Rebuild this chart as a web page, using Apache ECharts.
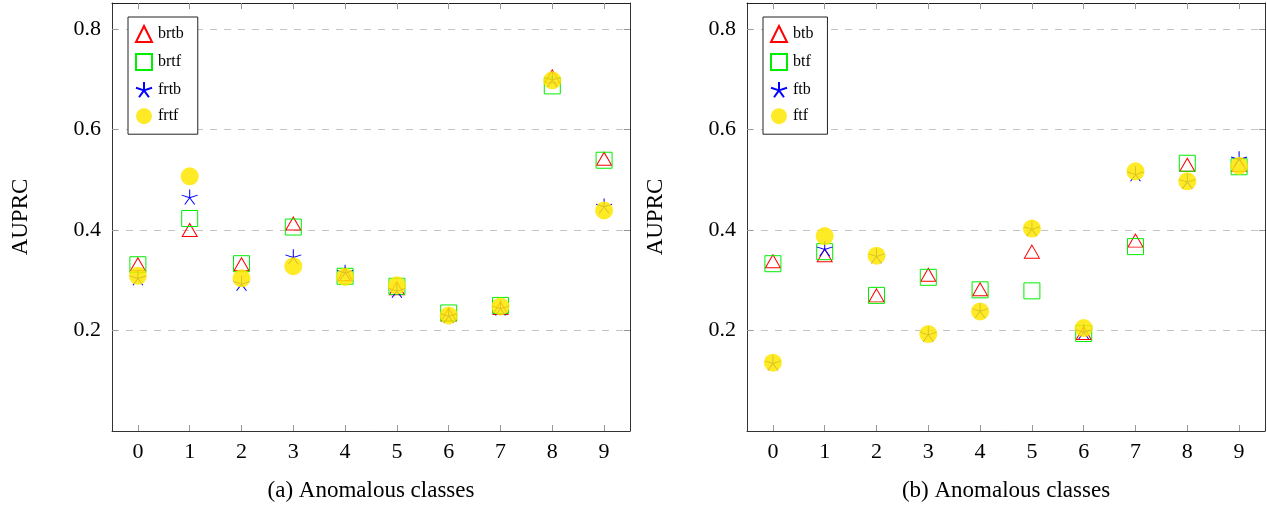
<!DOCTYPE html>
<html>
<head>
<meta charset="utf-8">
<script src="https://cdn.jsdelivr.net/npm/echarts@6/dist/echarts.min.js"></script>
<style>
html,body{margin:0;padding:0;background:#fff;}
#chart{width:1267px;height:507px;}
</style>
</head>
<body>
<div id="chart"></div>
<script>
const classes = ['0','1','2','3','4','5','6','7','8','9'];
const yTickLabels = [0.2, 0.4, 0.6, 0.8];

const leftNames = ['brtb', 'brtf', 'frtb', 'frtf'];
const leftBrtb = [0.332, 0.400, 0.332, 0.413, 0.312, 0.284, 0.232, 0.245, 0.706, 0.542];
const leftBrtf = [0.331, 0.423, 0.333, 0.406, 0.308, 0.288, 0.235, 0.250, 0.687, 0.539];
const leftFrtb = [0.305, 0.466, 0.294, 0.347, 0.316, 0.280, 0.230, 0.245, 0.700, 0.448];
const leftFrtf = [0.309, 0.507, 0.304, 0.328, 0.307, 0.290, 0.230, 0.248, 0.698, 0.439];

const rightNames = ['btb', 'btf', 'ftb', 'ftf'];
const rightBtb = [0.338, 0.350, 0.270, 0.311, 0.282, 0.357, 0.195, 0.379, 0.530, 0.530];
const rightBtf = [0.333, 0.357, 0.270, 0.306, 0.281, 0.279, 0.194, 0.367, 0.533, 0.526];
const rightFtb = [0.136, 0.363, 0.349, 0.193, 0.240, 0.403, 0.198, 0.512, 0.497, 0.542];
const rightFtf = [0.136, 0.388, 0.349, 0.193, 0.238, 0.403, 0.205, 0.517, 0.497, 0.528];

const captions = ['(a) Anomalous classes', '(b) Anomalous classes'];
const yName = 'AUPRC';

const FONT = 'Liberation Serif';
const STAR = 'path://M0 -1 L0 0 M0.951 -0.309 L0 0 M0.588 0.809 L0 0 M-0.588 0.809 L0 0 M-0.951 -0.309 L0 0';
const YELLOW = '#ffe600';

const chart = echarts.init(document.getElementById('chart'), null, {renderer: 'canvas'});

const grids = [
  {left: 112, right: 637, top: 3, bottom: 74},
  {left: 747, right: 2, top: 3, bottom: 74}
];

function xAxes(i) {
  return [
    {
      type: 'category', gridIndex: i, data: classes, position: 'bottom',
      boundaryGap: true,
      axisLine: {show: true, onZero: false, lineStyle: {color: '#333', width: 1}},
      axisTick: {show: true, inside: true, alignWithLabel: true, length: 6, lineStyle: {color: '#999'}},
      axisLabel: {fontFamily: FONT, fontSize: 22, color: '#000', margin: 10},
      splitLine: {show: false},
      name: captions[i], nameLocation: 'middle', nameGap: 48,
      nameTextStyle: {fontFamily: FONT, fontSize: 23, color: '#000'}
    },
    {
      type: 'category', gridIndex: i, data: classes, position: 'top',
      boundaryGap: true,
      axisLine: {show: true, onZero: false, lineStyle: {color: '#222', width: 1}},
      axisTick: {show: true, inside: true, alignWithLabel: true, length: 6, lineStyle: {color: '#999'}},
      axisLabel: {show: false},
      splitLine: {show: false}
    }
  ];
}

function yAxes(i) {
  const fmt = v => {
    const r = Math.round(v * 100) / 100;
    return yTickLabels.some(t => Math.abs(t - r) < 1e-6) ? r.toFixed(1) : '';
  };
  return [
    {
      type: 'value', gridIndex: i, min: 0, max: 0.852, interval: 0.2, position: 'left',
      axisLine: {show: true, onZero: false, lineStyle: {color: '#333', width: 1}},
      axisTick: {show: true, inside: true, length: 6, customValues: yTickLabels, lineStyle: {color: '#999'}},
      axisLabel: {fontFamily: FONT, fontSize: 22, color: '#000', margin: 11, formatter: fmt},
      splitLine: {show: true, lineStyle: {color: '#c4c4c4', type: [7, 7], width: 1}},
      name: yName, nameLocation: 'middle', nameRotate: 90, nameGap: 80,
      nameTextStyle: {fontFamily: FONT, fontSize: 23, color: '#000'}
    },
    {
      type: 'value', gridIndex: i, min: 0, max: 0.852, interval: 0.2, position: 'right',
      axisLine: {show: true, onZero: false, lineStyle: {color: '#333', width: 1}},
      axisTick: {show: true, inside: true, length: 6, customValues: yTickLabels, lineStyle: {color: '#999'}},
      axisLabel: {show: false},
      splitLine: {show: false}
    }
  ];
}

function seriesFor(i, names, tri, sq, star, circ) {
  const xi = i * 2, yi = i * 2;
  return [
    {
      name: names[0], type: 'scatter', xAxisIndex: xi, yAxisIndex: yi, data: tri,
      symbol: 'triangle', symbolSize: [15, 13],
      itemStyle: {color: 'rgba(255,255,255,0)', borderColor: '#ff0000', borderWidth: 1, opacity: 1},
      z: 2
    },
    {
      name: names[1], type: 'scatter', xAxisIndex: xi, yAxisIndex: yi, data: sq,
      symbol: 'rect', symbolSize: 16,
      itemStyle: {color: 'rgba(255,255,255,0)', borderColor: '#00ee00', borderWidth: 1, opacity: 1},
      z: 3
    },
    {
      name: names[2], type: 'scatter', xAxisIndex: xi, yAxisIndex: yi, data: star,
      symbol: STAR, symbolSize: [16, 15],
      itemStyle: {color: '#0000ff', borderColor: '#0000ff', borderWidth: 1, opacity: 1},
      z: 4
    },
    {
      name: names[3], type: 'scatter', xAxisIndex: xi, yAxisIndex: yi, data: circ,
      symbol: 'circle', symbolSize: 18,
      itemStyle: {color: YELLOW, opacity: 0.85},
      z: 5
    }
  ];
}

function legendFor(i, names, left) {
  return {
    data: names, orient: 'vertical', left: left, top: 17,
    itemWidth: 16, itemHeight: 16, itemGap: 10,
    padding: [8, 14, 10, 7],
    borderColor: '#222', borderWidth: 1,
    backgroundColor: '#fff',
    textStyle: {fontFamily: FONT, fontSize: 16, color: '#000', padding: [0, 0, 0, 1]},
    selectedMode: false
  };
}

const option = {
  backgroundColor: '#fff',
  animation: false,
  grid: grids,
  xAxis: [...xAxes(0), ...xAxes(1)],
  yAxis: [...yAxes(0), ...yAxes(1)],
  legend: [legendFor(0, leftNames, 128), legendFor(1, rightNames, 763)],
  series: [
    ...seriesFor(0, leftNames, leftBrtb, leftBrtf, leftFrtb, leftFrtf),
    ...seriesFor(1, rightNames, rightBtb, rightBtf, rightFtb, rightFtf)
  ]
};
chart.setOption(option);
</script>
</body>
</html>
